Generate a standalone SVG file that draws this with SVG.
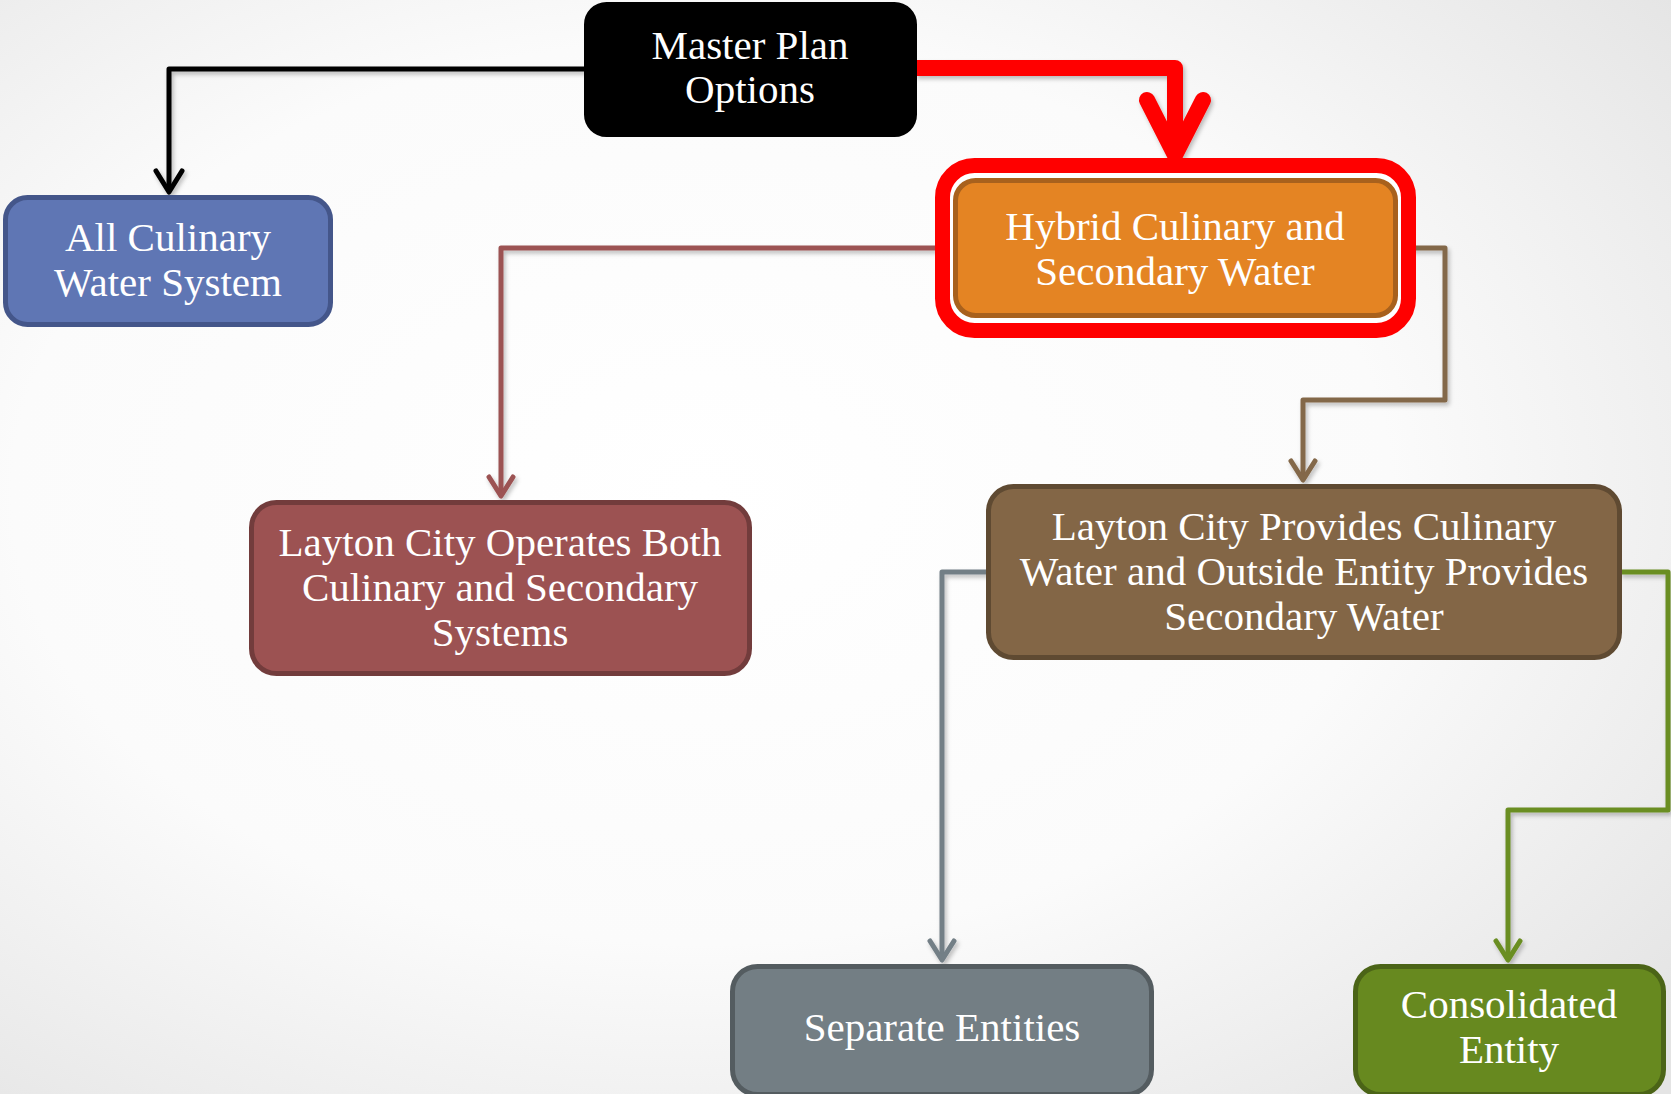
<svg xmlns="http://www.w3.org/2000/svg" width="1671" height="1094" viewBox="0 0 1671 1094">
  <defs>
    <radialGradient id="bg" cx="0.42" cy="0.45" r="0.75">
      <stop offset="0" stop-color="#ffffff"/>
      <stop offset="0.55" stop-color="#fbfbfb"/>
      <stop offset="1" stop-color="#e4e4e4"/>
    </radialGradient>
    <filter id="sh" x="-10%" y="-10%" width="120%" height="120%">
      <feDropShadow dx="2" dy="3" stdDeviation="2" flood-color="#000" flood-opacity="0.25"/>
    </filter>
    <marker id="a-black" markerUnits="userSpaceOnUse" markerWidth="40" markerHeight="40" viewBox="-30 -20 40 40" refX="0" refY="0" orient="auto" overflow="visible">
      <path d="M -21,-13 L 0,0 L -21,13" fill="none" stroke="#000000" stroke-width="5" stroke-linecap="round" stroke-linejoin="round"/>
    </marker>
    <marker id="a-red" markerUnits="userSpaceOnUse" markerWidth="80" markerHeight="80" viewBox="-70 -40 80 80" refX="0" refY="0" orient="auto" overflow="visible">
      <path d="M -55,-28 L 0,0 L -55,28" fill="none" stroke="#ff0000" stroke-width="16" stroke-linecap="round" stroke-linejoin="round"/>
    </marker>
    <marker id="a-rose" markerUnits="userSpaceOnUse" markerWidth="40" markerHeight="40" viewBox="-30 -20 40 40" refX="0" refY="0" orient="auto" overflow="visible">
      <path d="M -19,-12 L 0,0 L -19,12" fill="none" stroke="#9c5252" stroke-width="5" stroke-linecap="round" stroke-linejoin="round"/>
    </marker>
    <marker id="a-brown" markerUnits="userSpaceOnUse" markerWidth="40" markerHeight="40" viewBox="-30 -20 40 40" refX="0" refY="0" orient="auto" overflow="visible">
      <path d="M -19,-12 L 0,0 L -19,12" fill="none" stroke="#836749" stroke-width="5" stroke-linecap="round" stroke-linejoin="round"/>
    </marker>
    <marker id="a-gray" markerUnits="userSpaceOnUse" markerWidth="40" markerHeight="40" viewBox="-30 -20 40 40" refX="0" refY="0" orient="auto" overflow="visible">
      <path d="M -19,-12 L 0,0 L -19,12" fill="none" stroke="#737f86" stroke-width="5" stroke-linecap="round" stroke-linejoin="round"/>
    </marker>
    <marker id="a-green" markerUnits="userSpaceOnUse" markerWidth="40" markerHeight="40" viewBox="-30 -20 40 40" refX="0" refY="0" orient="auto" overflow="visible">
      <path d="M -19,-12 L 0,0 L -19,12" fill="none" stroke="#6b8e23" stroke-width="5" stroke-linecap="round" stroke-linejoin="round"/>
    </marker>
  </defs>
  <style>
    .conn { fill: none; stroke-width: 5; stroke-linejoin: round; }
    .conn.hl { stroke-width: 16; }
    .box { stroke-width: 5; }
    .lbl { font-family: "Liberation Serif", "Times New Roman", serif; font-size: 41px; fill: #ffffff; text-anchor: middle; }
  </style>

  <rect x="0" y="0" width="1671" height="1094" fill="url(#bg)"/>

  <g id="connectors" filter="url(#sh)">
    <path class="conn" d="M 586,69 H 169 V 192" stroke="#000000" marker-end="url(#a-black)"/>
    <path class="conn hl" d="M 915,68 H 1175 V 155" stroke="#ff0000" marker-end="url(#a-red)"/>
    <path class="conn" d="M 955,248 H 501 V 496" stroke="#9c5252" marker-end="url(#a-rose)"/>
    <path class="conn" d="M 1396,248 H 1445 V 400 H 1303 V 480" stroke="#836749" marker-end="url(#a-brown)"/>
    <path class="conn" d="M 988,572 H 942 V 960" stroke="#737f86" marker-end="url(#a-gray)"/>
    <path class="conn" d="M 1620,572 H 1668 V 810 H 1508 V 960" stroke="#6b8e23" marker-end="url(#a-green)"/>
  </g>

  <g id="node-master">
    <rect class="box" x="586.5" y="4.5" width="328" height="130" rx="20" fill="#000000" stroke="#000000"/>
    <text class="lbl" x="750" y="59">Master Plan</text>
    <text class="lbl" x="750" y="103">Options</text>
  </g>

  <g id="node-all-culinary">
    <rect class="box" x="5.5" y="197.5" width="325" height="127" rx="22" fill="#5f76b4" stroke="#44568a"/>
    <text class="lbl" x="168" y="251">All Culinary</text>
    <text class="lbl" x="168" y="296">Water System</text>
  </g>

  <g id="node-hybrid">
    <rect x="942.5" y="165.5" width="466" height="165" rx="32" fill="#ffffff" stroke="#ff0000" stroke-width="15"/>
    <rect class="box" x="955.5" y="180.5" width="440" height="135" rx="20" fill="#e48423" stroke="#a8611d"/>
    <text class="lbl" x="1175" y="240">Hybrid Culinary and</text>
    <text class="lbl" x="1175" y="285">Secondary Water</text>
  </g>

  <g id="node-operates-both">
    <rect class="box" x="251.5" y="502.5" width="498" height="171" rx="25" fill="#9c5252" stroke="#723c3c"/>
    <text class="lbl" x="500" y="556">Layton City Operates Both</text>
    <text class="lbl" x="500" y="601">Culinary and Secondary</text>
    <text class="lbl" x="500" y="646">Systems</text>
  </g>

  <g id="node-provides">
    <rect class="box" x="988.5" y="486.5" width="631" height="171" rx="25" fill="#836646" stroke="#5f4a32"/>
    <text class="lbl" x="1304" y="540">Layton City Provides Culinary</text>
    <text class="lbl" x="1304" y="585">Water and Outside Entity Provides</text>
    <text class="lbl" x="1304" y="630">Secondary Water</text>
  </g>

  <g id="node-separate">
    <rect class="box" x="732.5" y="966.5" width="419" height="128" rx="25" fill="#737e84" stroke="#545c60"/>
    <text class="lbl" x="942" y="1041">Separate Entities</text>
  </g>

  <g id="node-consolidated">
    <rect class="box" x="1355.5" y="966.5" width="308" height="128" rx="25" fill="#67891f" stroke="#4b6417"/>
    <text class="lbl" x="1509" y="1018">Consolidated</text>
    <text class="lbl" x="1509" y="1063">Entity</text>
  </g>
</svg>
